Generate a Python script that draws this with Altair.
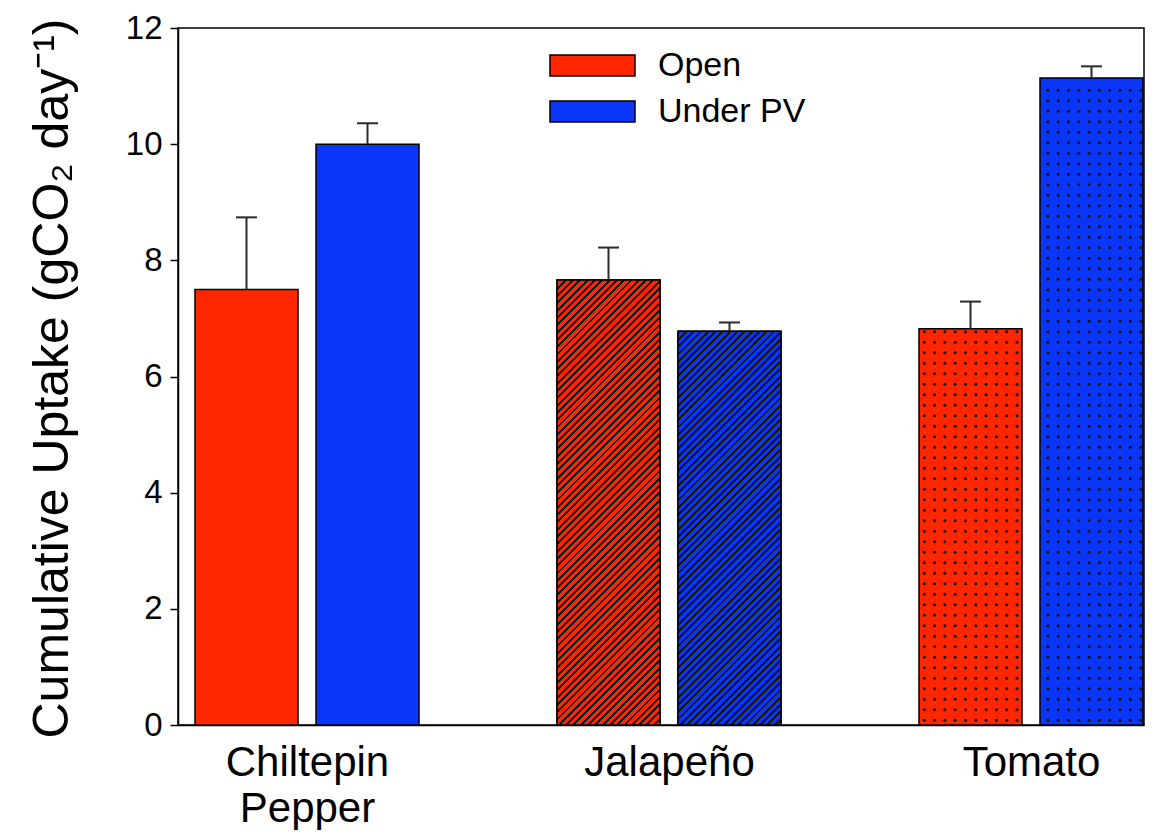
import json
import altair as alt
import pandas as pd

# ---------------- data ----------------
categories = ["Chiltepin Pepper", "Jalapeño", "Tomato"]
category_lines = [["Chiltepin", "Pepper"], ["Jalapeño"], ["Tomato"]]
treatments = ["Open", "Under PV"]
open_vals = [7.50, 7.66, 6.82]
pv_vals = [10.00, 6.78, 11.14]
open_err = [1.24, 0.56, 0.47]
pv_err = [0.36, 0.15, 0.20]
fill_styles = ["solid", "hatch", "dots"]
y_ticks = [0, 2, 4, 6, 8, 10, 12]

# ---------------- style / layout ----------------
RED = "#FF2600"
BLUE = "#0A36FA"
FONT = "Liberation Sans"
W, H = 966, 697
YMAX = 12
GROUP_PX = 362.0
BAR_PX = 103.0
GAP_PX = 18.0
CAP_PX = 10.5
XMIN = -129.0 / GROUP_PX
XMAX = XMIN + W / GROUP_PX
UX = 1.0 / GROUP_PX        # data units per pixel, x
UY = YMAX / H              # data units per pixel, y

rows = []
for i, cat in enumerate(categories):
    for j, (t, v, e) in enumerate([(treatments[0], open_vals[i], open_err[i]),
                                   (treatments[1], pv_vals[i], pv_err[i])]):
        left = i + ((-GAP_PX / 2 - BAR_PX) if j == 0 else GAP_PX / 2) * UX
        right = left + BAR_PX * UX
        c = (left + right) / 2
        rows.append(dict(category=cat, treatment=t, style=fill_styles[i], val=v,
                         top=v + e, x1=left, x2=right, xc=c,
                         capl=c - CAP_PX * UX, capr=c + CAP_PX * UX))
df = pd.DataFrame(rows)

label_expr = ""
for i, lines in enumerate(category_lines):
    lab = json.dumps(lines if len(lines) > 1 else lines[0], ensure_ascii=False)
    if i < len(category_lines) - 1:
        label_expr += f"datum.value == {i} ? {lab} : "
    else:
        label_expr += lab

xscale = alt.Scale(domain=[XMIN, XMAX], nice=False, zero=False)
yscale = alt.Scale(domain=[0, YMAX], nice=False, zero=True)

xaxis = alt.Axis(values=list(range(len(categories))), labelExpr=label_expr, title=None,
                 grid=False, ticks=False, tickSize=0, labelPadding=17, labelFontSize=42,
                 labelFont=FONT, labelColor="black", labelLineHeight=46, labelOverlap=False,
                 labelFlush=False, labelBound=False, domainColor="black",
                 domainWidth=1.5, labelBaseline="top")
yaxis = alt.Axis(values=y_ticks, title="Cumulative Uptake (gCO₂ day⁻¹)", grid=False,
                 tickSize=8, tickColor="black", tickWidth=1.5, labelPadding=8,
                 labelFontSize=33, labelFont=FONT, labelColor="black",
                 domainColor="black", domainWidth=1.5, titleFont=FONT, titleFontSize=50,
                 titleFontWeight="normal", titleColor="black", titleAngle=270,
                 titleBaseline="alphabetic", titleAlign="center", titleX=-111, titleY=350)

X = lambda f: alt.X(f, type="quantitative", scale=xscale, axis=xaxis)
Y = lambda f: alt.Y(f, type="quantitative", scale=yscale, axis=yaxis)

legend_path = "M-1,-0.247L1,-0.247L1,0.247L-1,0.247Z"

bars = alt.Chart(df).mark_rect(stroke="black", strokeWidth=1.5).encode(
    x=X("x1"), x2="x2", y=Y("val"), y2=alt.datum(0),
    color=alt.Color("treatment:N",
                    scale=alt.Scale(domain=treatments, range=[RED, BLUE]),
                    legend=alt.Legend(orient="none", legendX=371, legendY=25.5, title=None,
                                      symbolType=legend_path, symbolSize=7225,
                                      symbolStrokeColor="black", symbolStrokeWidth=1.5,
                                      symbolOpacity=1, clipHeight=24, rowPadding=12,
                                      labelFontSize=34, labelFont=FONT, labelColor="black",
                                      labelOffset=22, padding=0)),
)

layers = [bars]


def hatch_gradient(base, h_px, w_px=BAR_PX, period=7.3, line=2.9, dark="#151515"):
    L = w_px + h_px
    stops = []
    k = 0
    while k * period < L:
        s = k * period
        a = s / L
        b = min((s + line) / L, 1.0)
        c = min((s + period) / L, 1.0)
        stops += [alt.GradientStop(offset=a, color=dark),
                  alt.GradientStop(offset=b, color=dark),
                  alt.GradientStop(offset=b, color=base),
                  alt.GradientStop(offset=c, color=base)]
        k += 1
    d = w_px * w_px + h_px * h_px
    return alt.LinearGradient(gradient="linear", stops=stops, x1=0, y1=0,
                              x2=w_px * L / d, y2=h_px * L / d)


for _, r in df[df["style"] == "hatch"].iterrows():
    base = RED if r["treatment"] == treatments[0] else BLUE
    grad = hatch_gradient(base, r["val"] / UY)
    layers.append(
        alt.Chart(pd.DataFrame([r])).mark_rect(fill=grad, stroke="black", strokeWidth=1.5)
        .encode(x=X("x1"), x2="x2", y=Y("val"), y2=alt.datum(0))
    )

# dotted texture
dots = []
for cat in df[df["style"] == "dots"]["category"].unique():
    sub = df[df["category"] == cat]
    start = sub["x1"].min()
    end = sub["x2"].max()
    k = 0
    while True:
        xd = start + (5.3 + 10.3 * k) * UX
        if xd > end - 1.0 * UX:
            break
        for _, r in sub.iterrows():
            if r["x1"] + 1.0 * UX <= xd <= r["x2"] - 0.5 * UX:
                m = 0
                while True:
                    yd = (4.8 + 10.5 * m) * UY
                    if yd > r["val"] - 2.0 * UY:
                        break
                    dots.append(dict(dx=xd, dy=yd))
                    m += 1
        k += 1
dots_df = pd.DataFrame(dots)
layers.append(
    alt.Chart(dots_df).mark_circle(size=9, color="#141414", opacity=1)
    .encode(x=X("dx"), y=Y("dy"))
)

err_line = alt.Chart(df).mark_rule(color="#2a2a2a", strokeWidth=2).encode(
    x=X("xc"), y=Y("val"), y2="top")
err_cap = alt.Chart(df).mark_rule(color="#2a2a2a", strokeWidth=2).encode(
    x=X("capl"), x2="capr", y=Y("top"))
layers += [err_line, err_cap]

chart = alt.layer(*layers).properties(
    width=W, height=H,
    background="white",
    autosize=alt.AutoSizeParams(type="none"),
    padding={"left": 170, "top": 20, "right": 1, "bottom": 105},
).configure_view(stroke="black", strokeWidth=1.5)

chart.save("out.html", embed_options={"renderer": "svg", "actions": False})
